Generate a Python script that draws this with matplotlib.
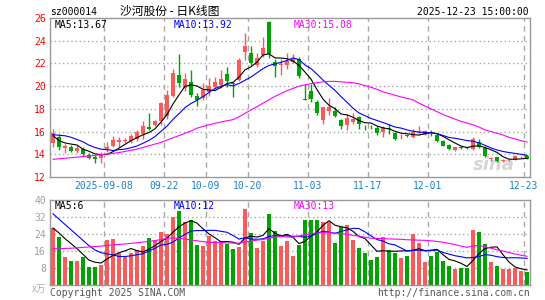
import numpy as np
import pandas as pd
import matplotlib.pyplot as plt

# daily candles, 2025-08-26 .. 2025-12-23 (80 trading days)
opens = [15.0, 15.5, 14.54, 14.62, 14.25, 14.45, 13.95, 13.77, 13.67, 14.45,
         14.77, 15.1, 15.18, 15.18, 15.36, 15.8, 16.37, 16.54, 16.97, 17.34,
         19.17, 20.97, 19.85, 20.35, 19.1, 18.95, 19.5, 19.94, 20.09, 21.06,
         20.3, 20.53, 23.05, 22.95, 21.9, 22.74, 25.68, 22.1, 21.85, 21.85,
         22.1, 22.4, 18.9, 19.55, 18.6, 17.06, 17.82, 17.82, 16.98, 16.55,
         16.84, 17.3, 16.43, 16.41, 16.34, 15.94, 16.27, 15.85, 15.48, 15.68,
         15.5, 15.85, 15.74, 15.96, 15.7, 15.2, 14.85, 14.38, 14.62, 14.58,
         14.47, 15.06, 14.56, 13.57, 13.74, 13.42, 13.48, 13.53, 13.72, 13.88]
highs = [16.27, 15.8, 14.92, 14.83, 14.8, 14.62, 14.1, 13.95, 14.2, 15.1,
         15.57, 15.55, 15.4, 15.8, 16.15, 16.9, 17.6, 17.04, 18.6, 19.7,
         21.47, 22.8, 21.17, 21.4, 19.4, 20.3, 20.75, 20.82, 21.4, 21.7,
         20.35, 22.44, 24.65, 23.5, 22.9, 24.35, 25.7, 22.4, 22.4, 22.9,
         22.8, 22.6, 20.2, 20.2, 18.82, 18.17, 19.0, 18.17, 17.14, 17.57,
         17.6, 17.4, 16.6, 16.55, 16.5, 16.47, 16.68, 15.95, 15.8, 15.8,
         16.2, 16.5, 16.1, 16.15, 15.85, 15.22, 14.9, 14.68, 14.7, 14.65,
         15.5, 15.35, 14.75, 13.78, 13.74, 13.55, 13.6, 13.95, 13.82, 13.95]
lows = [14.6, 14.4, 14.15, 14.24, 14.1, 13.86, 13.6, 13.2, 13.25, 14.24,
        14.62, 14.62, 14.95, 14.98, 15.13, 15.36, 16.15, 16.45, 16.6, 17.1,
        19.05, 19.9, 19.56, 19.05, 18.25, 18.77, 19.1, 19.74, 19.85, 19.94,
        19.05, 20.44, 22.3, 21.85, 21.7, 22.6, 22.45, 20.8, 21.0, 21.5,
        22.0, 20.7, 18.8, 18.6, 17.45, 16.7, 17.5, 17.3, 16.2, 16.16,
        16.7, 16.25, 16.15, 16.2, 15.73, 15.56, 15.8, 15.3, 15.35, 15.5,
        15.4, 15.8, 15.7, 15.65, 15.05, 14.7, 14.4, 14.32, 14.5, 14.45,
        14.38, 14.55, 13.8, 13.45, 13.35, 13.35, 13.4, 13.5, 13.65, 13.55]
closes = [15.9, 14.6, 14.74, 14.3, 14.55, 14.03, 13.71, 13.6, 13.97, 14.62,
          15.27, 15.25, 15.25, 15.57, 16.0, 16.5, 16.25, 16.9, 18.55, 19.26,
          21.2, 20.24, 20.64, 19.2, 18.8, 19.7, 19.97, 20.38, 20.62, 20.47,
          20.22, 22.3, 23.55, 22.0, 22.5, 23.38, 22.8, 21.75, 21.95, 22.2,
          22.35, 20.9, 18.8, 18.85, 17.6, 18.15, 18.17, 17.33, 16.47, 17.22,
          17.12, 16.69, 16.38, 16.37, 15.88, 16.32, 16.22, 15.35, 15.52, 15.64,
          15.94, 16.0, 16.03, 15.92, 15.2, 14.76, 14.47, 14.62, 14.58, 14.54,
          15.35, 14.62, 13.88, 13.6, 13.38, 13.45, 13.52, 13.88, 13.76, 13.59]
# volume, in 10k lots
volumes = [26.7, 22.4, 13.4, 11.5, 11.5, 13.4, 8.6, 8.6, 9.6, 21.1,
           21.6, 15.0, 13.1, 15.0, 16.3, 18.2, 22.0, 21.0, 25.0, 24.2,
           31.8, 35.0, 29.8, 30.4, 18.7, 18.2, 23.2, 20.8, 20.6, 19.5,
           16.8, 17.9, 36.0, 24.6, 17.4, 20.8, 33.6, 25.4, 18.4, 20.9,
           13.8, 18.9, 30.8, 30.5, 30.8, 29.5, 29.8, 20.0, 27.1, 28.1,
           21.3, 17.6, 15.2, 11.9, 13.3, 22.7, 16.3, 15.2, 12.7, 13.6,
           23.8, 20.0, 10.9, 13.6, 15.5, 11.4, 8.8, 7.4, 8.0, 8.0,
           25.7, 24.8, 19.5, 10.9, 8.8, 7.4, 7.4, 8.0, 6.6, 6.1]

# moving-average values at the left edge (need days before the window)
ma5_head = [15.65, 15.2, 15.0, 14.9]
ma10_head = [15.72, 15.68, 15.63, 15.5, 15.3, 15.1, 14.8, 14.6, 14.45]
vma5_head = [26.8, 24.5, 21.8, 19.5]
vma10_head = [33.5, 31.0, 28.5, 26.0, 23.5, 21.0, 18.5, 16.5, 15.2]
ma30 = [13.56, 13.6, 13.65, 13.7, 13.75, 13.8, 13.85, 13.9, 13.97, 14.02,
        14.08, 14.15, 14.25, 14.35, 14.45, 14.6, 14.75, 14.9, 15.05, 15.25,
        15.45, 15.65, 15.85, 16.05, 16.3, 16.45, 16.6, 16.72, 16.85, 16.95,
        17.05, 17.3, 17.6, 17.9, 18.2, 18.5, 18.8, 19.1, 19.35, 19.6,
        19.8, 20.0, 20.12, 20.22, 20.3, 20.38, 20.42, 20.42, 20.38, 20.34,
        20.3, 20.2, 20.05, 19.9, 19.72, 19.5, 19.35, 19.2, 19.05, 18.92,
        18.8, 18.5, 18.25, 18.0, 17.75, 17.5, 17.3, 17.1, 16.9, 16.75,
        16.6, 16.4, 16.15, 16.0, 15.85, 15.7, 15.5, 15.35, 15.2, 15.08]
vma30 = [17.0, 17.1, 17.2, 17.3, 17.5, 17.7, 17.9, 18.1, 18.3, 18.6,
         18.9, 19.1, 19.3, 19.6, 19.9, 20.2, 20.5, 20.9, 21.4, 22.0,
         22.2, 22.0, 21.6, 21.2, 20.8, 20.4, 20.1, 20.0, 19.9, 19.8,
         19.7, 19.7, 20.2, 20.7, 21.1, 21.4, 22.0, 22.5, 22.8, 22.6,
         22.5, 23.0, 23.6, 24.1, 24.5, 24.6, 24.6, 24.4, 24.2, 23.8,
         23.4, 23.0, 22.5, 22.0, 21.9, 21.8, 21.7, 21.6, 21.5, 21.3,
         21.2, 21.1, 21.0, 20.8, 20.5, 20.1, 19.6, 19.0, 18.3, 17.7,
         18.4, 18.6, 18.0, 17.3, 16.6, 16.0, 15.3, 14.6, 14.0, 13.5]

tick_idx = [9, 19, 26, 33, 43, 53, 63, 79]
tick_labels = ['2025-09-08', '09-22', '10-09', '10-20', '11-03', '11-17', '12-01', '12-23']

RED = '#fa5a5a'
GREEN = '#00a400'
GRID = '#aaaaaa'
MONO = 'DejaVu Sans Mono'
LW = 0.8

df = pd.DataFrame({'open': opens, 'high': highs, 'low': lows, 'close': closes, 'vol': volumes})
n = len(df)
x = np.arange(n)
up = df['close'] >= df['open']
colors = np.where(up, RED, GREEN)


def with_head(s, head):
    s = s.copy()
    s.iloc[:len(head)] = head
    return s


ma5 = with_head(df['close'].rolling(5).mean(), ma5_head)
ma10 = with_head(df['close'].rolling(10).mean(), ma10_head)
vma5 = with_head(df['vol'].rolling(5).mean(), vma5_head)
vma10 = with_head(df['vol'].rolling(10).mean(), vma10_head)

W, H = 545, 300
fig = plt.figure(figsize=(W / 100, H / 100), dpi=100)


def box(left, top, right, bottom):
    return [left / W, 1 - bottom / H, (right - left) / W, (bottom - top) / H]


def ftext(px, py, s, **kw):
    fig.text(px / W, 1 - py / H, s, **kw)


ax = fig.add_axes(box(50, 18, 530, 177))
axv = fig.add_axes(box(50, 200, 530, 285))

# price panel
for y in range(14, 26, 2):
    ax.axhline(y, color=GRID, lw=1, ls=(0, (1, 2)), zorder=0)
for t in tick_idx:
    ax.axvline(t - 0.5, color=GRID, lw=1, ls=(0, (4, 3)), zorder=0)

ax.text(73.5, 13.1, 'sina', color='#d6d6d6', fontsize=13, fontweight='bold',
        style='italic', ha='center', va='center', zorder=0.5)

ax.vlines(x, df['low'], df['high'], colors=colors, lw=1, zorder=2)
body_lo = np.minimum(df['open'], df['close'])
body_h = np.maximum((df['close'] - df['open']).abs(), 0.06)
ax.bar(x, body_h, bottom=body_lo, width=0.8, color=colors, lw=0, zorder=3)

ax.plot(x, ma5, color='black', lw=LW, zorder=4)
ax.plot(x, ma10, color='blue', lw=LW, zorder=4)
ax.plot(x, ma30, color='magenta', lw=LW, zorder=4)

ax.set_xlim(-0.5, n - 0.5)
ax.set_ylim(12, 26)
ax.set_yticks(range(12, 27, 2))
ax.set_yticklabels([str(v) for v in range(12, 27, 2)], color='red', fontsize=7, family=MONO)
ax.set_xticks([t - 0.5 for t in tick_idx])
ax.set_xticklabels(tick_labels, color='#1f7fcf', fontsize=7, family=MONO)
ax.tick_params(length=0, pad=3)

# volume panel
for y in [8, 16, 24, 32]:
    axv.axhline(y, color=GRID, lw=1, ls=(0, (1, 2)), zorder=0)
for t in tick_idx:
    axv.axvline(t - 0.5, color=GRID, lw=1, ls=(0, (4, 3)), zorder=0)

axv.bar(x, df['vol'], width=0.8, color=colors, lw=0, zorder=2)
axv.plot(x, vma5, color='black', lw=LW, zorder=4)
axv.plot(x, vma10, color='blue', lw=LW, zorder=4)
axv.plot(x, vma30, color='magenta', lw=LW, zorder=4)

axv.set_xlim(-0.5, n - 0.5)
axv.set_ylim(0, 40)
axv.set_yticks([8, 16, 24, 32, 40])
axv.set_yticklabels(['8', '16', '24', '32', '40'], color='#a0a0a0', fontsize=7, family=MONO)
axv.set_xticks([])
axv.tick_params(length=0, pad=3)

for a in (ax, axv):
    for sp in a.spines.values():
        sp.set_color('#999999')
        sp.set_linewidth(1)

# texts
ftext(50, 12, 'sz000014', fontsize=7, family=MONO, va='center')
ftext(120, 11, '沙河股份 - 日K线图', fontsize=8.5, family=['Noto Sans CJK SC', 'DejaVu Sans'], va='center')
ftext(529, 12, '2025-12-23 15:00:00', fontsize=7, family=MONO, va='center', ha='right')

ftext(55, 25, 'MA5:13.67', fontsize=7, family=MONO, va='center', color='black')
ftext(174, 25, 'MA10:13.92', fontsize=7, family=MONO, va='center', color='blue')
ftext(294, 25, 'MA30:15.08', fontsize=7, family=MONO, va='center', color='magenta')

ftext(55, 206, 'MA5:6', fontsize=7, family=MONO, va='center', color='black')
ftext(174, 206, 'MA10:12', fontsize=7, family=MONO, va='center', color='blue')
ftext(294, 206, 'MA30:13', fontsize=7, family=MONO, va='center', color='magenta')

ftext(46, 289, 'x万', fontsize=7, family=['Noto Sans CJK SC', 'DejaVu Sans'], va='center', ha='right', color='#b0b0b0')
ftext(50, 293, 'Copyright 2025 SINA.COM', fontsize=7, family=MONO, va='center', color='#555555')
ftext(530, 293, 'http://finance.sina.com.cn', fontsize=7, family=MONO, va='center', ha='right', color='#555555')

fig.savefig('out.png', dpi=100, facecolor='white')
